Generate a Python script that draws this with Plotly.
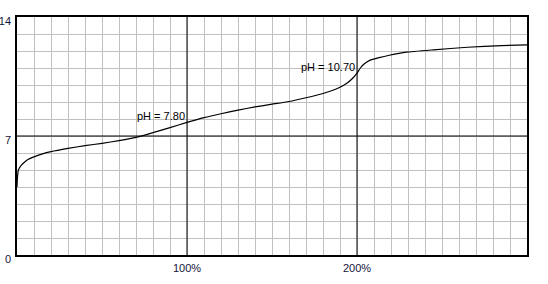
import plotly.graph_objects as go

# Titration curve data (percent of titrant added vs pH)
added_pct = [0, 0.3, 0.8, 2.7, 4.7, 6.7, 10, 15, 20, 30, 40, 50, 60, 70, 80, 90,
             100, 110, 120, 130, 140, 150, 160, 170, 180, 185, 190, 194, 197, 200,
             202, 204, 207.5, 213, 219, 229, 245, 265, 285, 300]
ph_values = [4.0, 4.6, 5.0, 5.3, 5.49, 5.63, 5.77, 5.95, 6.08, 6.27, 6.43, 6.57, 6.73, 6.92, 7.2, 7.49,
             7.80, 8.08, 8.31, 8.52, 8.71, 8.87, 9.03, 9.25, 9.5, 9.66, 9.87, 10.1, 10.35, 10.7,
             11.0, 11.22, 11.45, 11.61, 11.75, 11.93, 12.07, 12.22, 12.32, 12.36]

x_grid = list(range(0, 301, 10))
x_ticktext = ["100%" if v == 100 else "200%" if v == 200 else "" for v in x_grid]
y_grid = list(range(0, 15))
y_ticktext = [str(v) if v in (0, 7, 14) else "" for v in y_grid]

eq_points = [(100, 7.80, "pH = 7.80"), (200, 10.70, "pH = 10.70")]
major_x = [100, 200]
major_y = [7]

FONT = "Liberation Sans, Arial, sans-serif"
TICKCOLOR = "#14143a"

fig = go.Figure()
fig.add_trace(go.Scatter(x=added_pct, y=ph_values, mode="lines",
                         line=dict(color="black", width=1.2, shape="spline", smoothing=0.5),
                         hoverinfo="skip", showlegend=False))

for xv in major_x:
    fig.add_shape(type="line", xref="x", yref="paper", x0=xv, x1=xv, y0=0, y1=1,
                  line=dict(color="black", width=1), layer="above")
for yv in major_y:
    fig.add_shape(type="line", xref="paper", yref="y", x0=0, x1=1, y0=yv, y1=yv,
                  line=dict(color="black", width=1), layer="above")

for xv, yv, txt in eq_points:
    fig.add_annotation(x=xv, y=yv, text=txt, showarrow=False, xanchor="right",
                       yanchor="middle", yshift=6, xshift=0,
                       font=dict(family=FONT, size=11, color="black"))

fig.update_xaxes(range=[0, 300], tickmode="array", tickvals=x_grid, ticktext=x_ticktext,
                 showgrid=True, gridcolor="#c0c0c0", gridwidth=1, zeroline=False,
                 showline=True, linecolor="black", linewidth=1.5, mirror=True,
                 automargin=False, ticklabelstandoff=2,
                 ticks="", tickfont=dict(family=FONT, size=11, color=TICKCOLOR))
fig.update_yaxes(range=[0, 14], tickmode="array", tickvals=y_grid, ticktext=y_ticktext,
                 showgrid=True, gridcolor="#c0c0c0", gridwidth=1, zeroline=False,
                 showline=True, linecolor="black", linewidth=1.5, mirror=True,
                 automargin=False, ticks="", ticklabelstandoff=2, ticklabelshift=4,
                 tickfont=dict(family=FONT, size=11, color=TICKCOLOR))

fig.update_layout(width=548, height=284, margin=dict(l=17, r=21, t=17, b=29),
                  plot_bgcolor="white", paper_bgcolor="white", showlegend=False)

fig.write_html("out.html")
